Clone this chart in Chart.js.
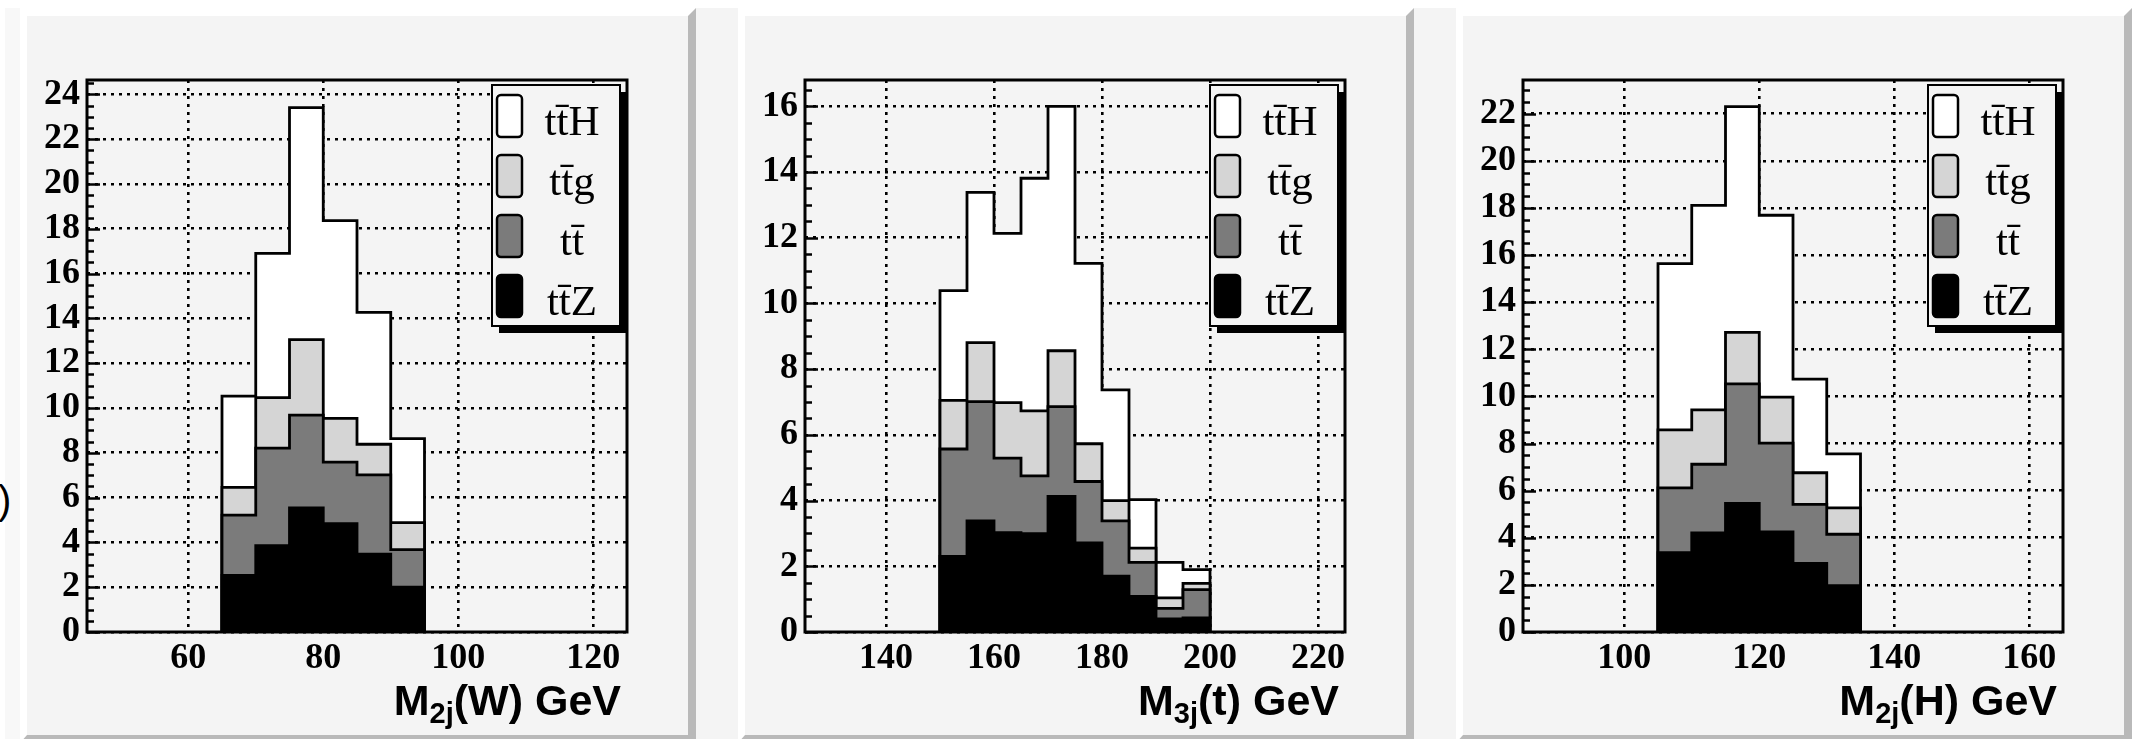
<!DOCTYPE html>
<html>
<head>
<meta charset="utf-8">
<title>ttH stacked mass distributions</title>
<script src="https://cdn.jsdelivr.net/npm/chart.js@4.4.1/dist/chart.umd.min.js"></script>
<style>
  html, body { margin: 0; padding: 0; background: #fff; }
  body { width: 2132px; height: 739px; overflow: hidden; position: relative; }
  #stage { position: absolute; left: 5px; top: 8px; right: 0; bottom: 0; background: #f4f4f4; }
  #strip { position: absolute; left: 5px; top: 8px; width: 15px; bottom: 0; background: #f8f8f8; }
  .pad {
    position: absolute; top: 8px;
    width: 661px; height: 719px;
    border-style: solid;
    border-width: 8px 8px 8px 7px;
    border-color: #fff #b9b9b9 #b9b9b9 #fff;
    background: #f4f4f4;
  }
  .pad canvas { display: block; }
  #paren { position: absolute; left: -2px; top: 478px; font: 40px "Liberation Sans", sans-serif; color: #000; }
</style>
</head>
<body>
<div id="stage"></div>
<div id="strip"></div>
<div id="paren">)</div>
<div class="pad" style="left:20px"><canvas id="chartW" width="661" height="719"></canvas></div>
<div class="pad" style="left:738px"><canvas id="chartT" width="661" height="719"></canvas></div>
<div class="pad" style="left:1456px"><canvas id="chartH" width="661" height="719"></canvas></div>

<script>
// ===== Daten =====
// Reihenfolge im Stack: ttZ (unten), tt, ttg, ttH (oben)
const LEGEND_LABELS = ['tt\u0304Z', 'tt\u0304', 'tt\u0304g', 'tt\u0304H'];
const FILL_COLORS = ['#000000', '#7b7b7b', '#d5d5d5', '#ffffff'];

// M2j(W)
const W_EDGES = [65, 70, 75, 80, 85, 90, 95];
const W_TTZ = [2.53, 3.85, 5.54, 4.84, 3.47, 2.00];
const W_TT  = [2.69, 4.36, 4.14, 2.74, 3.54, 1.68];
const W_TTG = [1.24, 2.25, 3.37, 1.96, 1.37, 1.20];
const W_TTH = [4.07, 6.44, 10.36, 8.82, 5.89, 3.75];
const W_XTICKS = [60, 80, 100, 120];
const W_YTICKS = [0, 2, 4, 6, 8, 10, 12, 14, 16, 18, 20, 22, 24];

// M3j(t)
const T_EDGES = [150, 155, 160, 165, 170, 175, 180, 185, 190, 195, 200];
const T_TTZ = [2.30, 3.38, 3.02, 2.99, 4.13, 2.71, 1.70, 1.08, 0.40, 0.43];
const T_TT  = [3.27, 3.63, 2.27, 1.76, 2.73, 1.87, 1.68, 1.04, 0.32, 0.86];
const T_TTG = [1.48, 1.80, 1.69, 1.98, 1.70, 1.15, 0.62, 0.43, 0.32, 0.19];
const T_TTH = [3.34, 4.57, 5.15, 7.08, 7.44, 5.49, 3.37, 1.48, 1.08, 0.42];
const T_XTICKS = [140, 160, 180, 200, 220];
const T_YTICKS = [0, 2, 4, 6, 8, 10, 12, 14, 16];

// M2j(H)
const H_EDGES = [105, 110, 115, 120, 125, 130, 135];
const H_TTZ = [3.37, 4.21, 5.46, 4.25, 2.91, 1.97];
const H_TT  = [2.75, 2.91, 5.07, 3.77, 2.51, 2.18];
const H_TTG = [2.46, 2.31, 2.19, 1.95, 1.34, 1.12];
const H_TTH = [7.06, 8.68, 9.58, 7.72, 3.97, 2.29];
const H_XTICKS = [100, 120, 140, 160];
const H_YTICKS = [0, 2, 4, 6, 8, 10, 12, 14, 16, 18, 20, 22];

const Y_MINOR_STEP = 0.5;

// ===== Helpers =====
// kumulierte Summen wie bei THStack
function cumulate(series) {
  const out = [];
  series.forEach((s, k) => {
    out.push(s.map((v, i) => k === 0 ? v : out[k - 1][i] + v));
  });
  return out;
}

// Stufenlinie mit senkrechten Kanten bis 0
function stepPoints(edges, tops) {
  const pts = [{ x: edges[0], y: 0 }];
  tops.forEach((v, i) => pts.push({ x: edges[i], y: v }));
  pts.push({ x: edges[edges.length - 1], y: tops[tops.length - 1] });
  pts.push({ x: edges[edges.length - 1], y: 0 });
  return pts;
}

// ===== Plugins =====
const rootFrame = {
  id: 'rootFrame',
  afterDatasetsDraw(chart) {
    const { ctx, chartArea: a, scales: { y } } = chart;
    ctx.save();
    ctx.strokeStyle = '#000';
    ctx.lineWidth = 2.5;
    ctx.beginPath();
    for (let v = 0; v <= y.max + 1e-9; v += Y_MINOR_STEP) {
      const py = Math.round(y.getPixelForValue(v)) + 0.5;
      const major = Math.abs(v / 2 - Math.round(v / 2)) < 1e-6;
      ctx.moveTo(a.left, py);
      ctx.lineTo(a.left + (major ? 13 : 7), py);
    }
    ctx.stroke();
    ctx.lineWidth = 3;
    ctx.strokeRect(a.left, a.top, a.right - a.left, a.bottom - a.top);
    ctx.restore();
  },
  afterDraw(chart) {
    const { ctx, chartArea: a } = chart;
    const cfg = chart.options.plugins.rootFrame;

    // Legende mit Schatten
    const L = a.right - 135, T = a.top + 5, W = 128, H = 241;
    ctx.save();
    ctx.fillStyle = '#000';
    ctx.fillRect(L + 7, T + 7, W, H);
    ctx.fillStyle = '#f4f4f4';
    ctx.fillRect(L, T, W, H);
    ctx.strokeStyle = '#000';
    ctx.lineWidth = 2;
    ctx.strokeRect(L, T, W, H);
    const ds = chart.data.datasets;
    for (let i = 0; i < ds.length; i++) {
      const d = ds[ds.length - 1 - i];
      const cy = T + 31 + 60 * i;
      ctx.beginPath();
      ctx.roundRect(L + 5, cy - 21, 25, 42, 4);
      ctx.fillStyle = d.backgroundColor;
      ctx.fill();
      ctx.lineWidth = 2.5;
      ctx.stroke();
      ctx.fillStyle = '#000';
      ctx.font = '43px "Liberation Serif"';
      ctx.textAlign = 'center';
      ctx.textBaseline = 'alphabetic';
      ctx.fillText(d.label, L + 80, cy + 19);
    }

    // Achsentitel mit Index
    const [main, sub, rest] = cfg.title;
    ctx.textAlign = 'left';
    ctx.font = 'bold 43px "Liberation Sans"';
    const wMain = ctx.measureText(main).width;
    const wRest = ctx.measureText(rest).width;
    ctx.font = 'bold 29px "Liberation Sans"';
    const wSub = ctx.measureText(sub).width;
    let x = a.right - 6 - (wMain + wSub + wRest);
    const base = 699;
    ctx.font = 'bold 43px "Liberation Sans"';
    ctx.fillText(main, x, base);
    x += wMain;
    ctx.font = 'bold 29px "Liberation Sans"';
    ctx.fillText(sub, x, base + 8);
    x += wSub;
    ctx.font = 'bold 43px "Liberation Sans"';
    ctx.fillText(rest, x, base);
    ctx.restore();
  }
};

// ===== Charts =====
const tickFont = { family: '"Liberation Serif", "DejaVu Serif", serif', weight: 'bold', size: 36 };

function createPanel(canvasId, p) {
  const tops = cumulate(p.series);
  const datasets = tops.map((t, k) => ({
    label: LEGEND_LABELS[k],
    data: stepPoints(p.edges, t),
    backgroundColor: FILL_COLORS[k],
    borderColor: '#000',
    borderWidth: 2.8,
    fill: 'origin',
    stepped: true,
    pointRadius: 0,
    tension: 0
  }));

  return new Chart(document.getElementById(canvasId), {
    type: 'line',
    data: { datasets },
    options: {
      animation: false,
      responsive: false,
      events: [],
      layout: { padding: { top: 64, right: 61, left: 0, bottom: 0 } },
      plugins: {
        legend: { display: false },
        tooltip: { enabled: false },
        rootFrame: { title: p.title }
      },
      scales: {
        x: {
          type: 'linear',
          min: p.xMin,
          max: p.xMax,
          afterBuildTicks: s => { s.ticks = p.xTicks.map(v => ({ value: v })); },
          afterFit: s => { s.height = 103; },
          grid: { color: '#000', lineWidth: 2.6, drawTicks: false },
          border: { display: false, dash: [3, 5] },
          ticks: { color: '#000', font: tickFont, padding: 5, maxRotation: 0, autoSkip: false }
        },
        y: {
          type: 'linear',
          min: 0,
          max: p.yMax,
          afterBuildTicks: s => { s.ticks = p.yTicks.map(v => ({ value: v })); },
          afterFit: s => { s.width = 60; },
          grid: { color: '#000', lineWidth: 2.6, drawTicks: false },
          border: { display: false, dash: [3, 5] },
          ticks: { color: '#000', font: tickFont, padding: 7, autoSkip: false }
        }
      }
    },
    plugins: [rootFrame]
  });
}

createPanel('chartW', {
  edges: W_EDGES, series: [W_TTZ, W_TT, W_TTG, W_TTH],
  xMin: 45, xMax: 125, yMax: 24.64,
  xTicks: W_XTICKS, yTicks: W_YTICKS,
  title: ['M', '2j', '(W) GeV']
});
createPanel('chartT', {
  edges: T_EDGES, series: [T_TTZ, T_TT, T_TTG, T_TTH],
  xMin: 125, xMax: 225, yMax: 16.8,
  xTicks: T_XTICKS, yTicks: T_YTICKS,
  title: ['M', '3j', '(t) GeV']
});
createPanel('chartH', {
  edges: H_EDGES, series: [H_TTZ, H_TT, H_TTG, H_TTH],
  xMin: 85, xMax: 165, yMax: 23.43,
  xTicks: H_XTICKS, yTicks: H_YTICKS,
  title: ['M', '2j', '(H) GeV']
});
</script>
</body>
</html>
